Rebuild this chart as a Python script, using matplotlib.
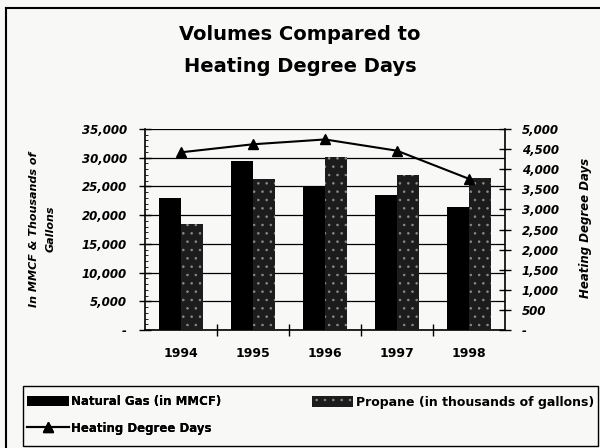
import matplotlib
matplotlib.use("Agg")
import matplotlib.pyplot as plt
import matplotlib.ticker as mticker
from matplotlib.patches import Rectangle
from matplotlib.lines import Line2D
import numpy as np

plt.rcParams['font.family'] = ['DejaVu Sans']
plt.rcParams['hatch.linewidth'] = 0.6

years = ['1994', '1995', '1996', '1997', '1998']
natural_gas = [22900, 29400, 25100, 23500, 21500]
propane = [18500, 26300, 30200, 27000, 26400]
heating_dd = [4420, 4620, 4740, 4460, 3760]

BG = '#f8f9f7'
W, H = 600, 448


def fx(px):
    return px / W


def fy(py):
    return 1 - py / H


fig = plt.figure(figsize=(6, 4.48), dpi=100, facecolor=BG)
ax = fig.add_axes([fx(145), fy(330), fx(360), 201 / H], facecolor=BG)

x = np.arange(len(years))
w = 0.31
bars_ng = ax.bar(x - w / 2, natural_gas, w, color='black', zorder=3)
bars_pr = ax.bar(x + w / 2, propane, w, color='#1c1c1c', edgecolor='#8a8a8a', linewidth=0,
                 hatch='..', zorder=3)

fmt = mticker.FuncFormatter(lambda v, p: '-' if v == 0 else f'{v:,.0f}')

ax.set_xlim(-0.5, len(years) - 0.5)
ax.set_ylim(0, 35000)
ax.yaxis.set_major_locator(mticker.MultipleLocator(5000))
ax.yaxis.set_minor_locator(mticker.MultipleLocator(1000))
ax.yaxis.set_major_formatter(fmt)
ax.grid(axis='y', color='black', linewidth=0.9, zorder=1)
ax.spines['top'].set_visible(False)
for s in ['left', 'right', 'bottom']:
    ax.spines[s].set_linewidth(1.2)

ax.set_xticks(x)
ax.set_xticklabels(years, fontsize=9, fontweight='bold')
ax.set_xticks(np.arange(0.5, len(years) - 1, 1), minor=True)
ax.tick_params(axis='x', which='major', length=0, pad=12)
ax.tick_params(axis='x', which='minor', direction='inout', length=8, width=1)
ax.tick_params(axis='y', which='major', direction='inout', length=8, width=1, pad=9)
ax.tick_params(axis='y', which='minor', direction='in', length=2, width=0.6)
for lbl in ax.get_yticklabels():
    lbl.set_fontsize(8.5)
    lbl.set_fontweight('bold')
    lbl.set_fontstyle('italic')

ax2 = ax.twinx()
line_hdd, = ax2.plot(x, heating_dd, color='black', marker='^', markersize=7,
                     linewidth=1.5, zorder=4)
ax2.set_ylim(0, 5000)
ax2.yaxis.set_major_locator(mticker.MultipleLocator(500))
ax2.yaxis.set_major_formatter(fmt)
ax2.tick_params(axis='y', direction='inout', length=8, width=1, pad=8)
for lbl in ax2.get_yticklabels():
    lbl.set_fontsize(8.5)
    lbl.set_fontweight('bold')
    lbl.set_fontstyle('italic')
for s in ax2.spines.values():
    s.set_visible(False)

# axis titles
fig.text(fx(42), fy(229), 'In MMCF & Thousands of\nGallons', rotation=90, ha='center',
         va='center', fontsize=8, fontweight='bold', fontstyle='italic', linespacing=1.8,
         multialignment='center')
fig.text(fx(585), fy(228), 'Heating Degree Days', rotation=90, ha='center', va='center',
         fontsize=8.5, fontweight='bold', fontstyle='italic')

fig.text(0.5, fy(34), 'Volumes Compared to', ha='center', va='center',
         fontsize=14, fontweight='bold')
fig.text(0.5, fy(66), 'Heating Degree Days', ha='center', va='center',
         fontsize=14, fontweight='bold')

# legend
leg1 = fig.legend([bars_ng, line_hdd], ['Natural Gas (in MMCF)', 'Heating Degree Days'],
                  loc='center left', bbox_to_anchor=(fx(27), fy(415)), frameon=False,
                  handlelength=3.56, handleheight=1.0, handletextpad=0.2, labelspacing=1.2,
                  borderaxespad=0, borderpad=0, prop={'weight': 'bold', 'size': 8.5})
leg2 = fig.legend([bars_pr], ['Propane (in thousands of gallons)'],
                  loc='center left', bbox_to_anchor=(fx(312), fy(402)), frameon=False,
                  handlelength=3.3, handleheight=1.0, handletextpad=0.2,
                  borderaxespad=0, borderpad=0, prop={'weight': 'bold', 'size': 9})
fig.add_artist(leg1)

fig.patches.append(Rectangle((fx(23), fy(446)), fx(598 - 23), (446 - 386) / H,
                             transform=fig.transFigure, fill=False, edgecolor='black',
                             linewidth=1))

# outer frame (left and top edges visible)
fig.add_artist(Line2D([fx(6), fx(6)], [fy(8), 0], transform=fig.transFigure,
                      color='black', linewidth=1.5))
fig.add_artist(Line2D([fx(6), 1], [fy(8), fy(8)], transform=fig.transFigure,
                      color='black', linewidth=1.5))

fig.savefig('out.png', dpi=100, facecolor=BG)
